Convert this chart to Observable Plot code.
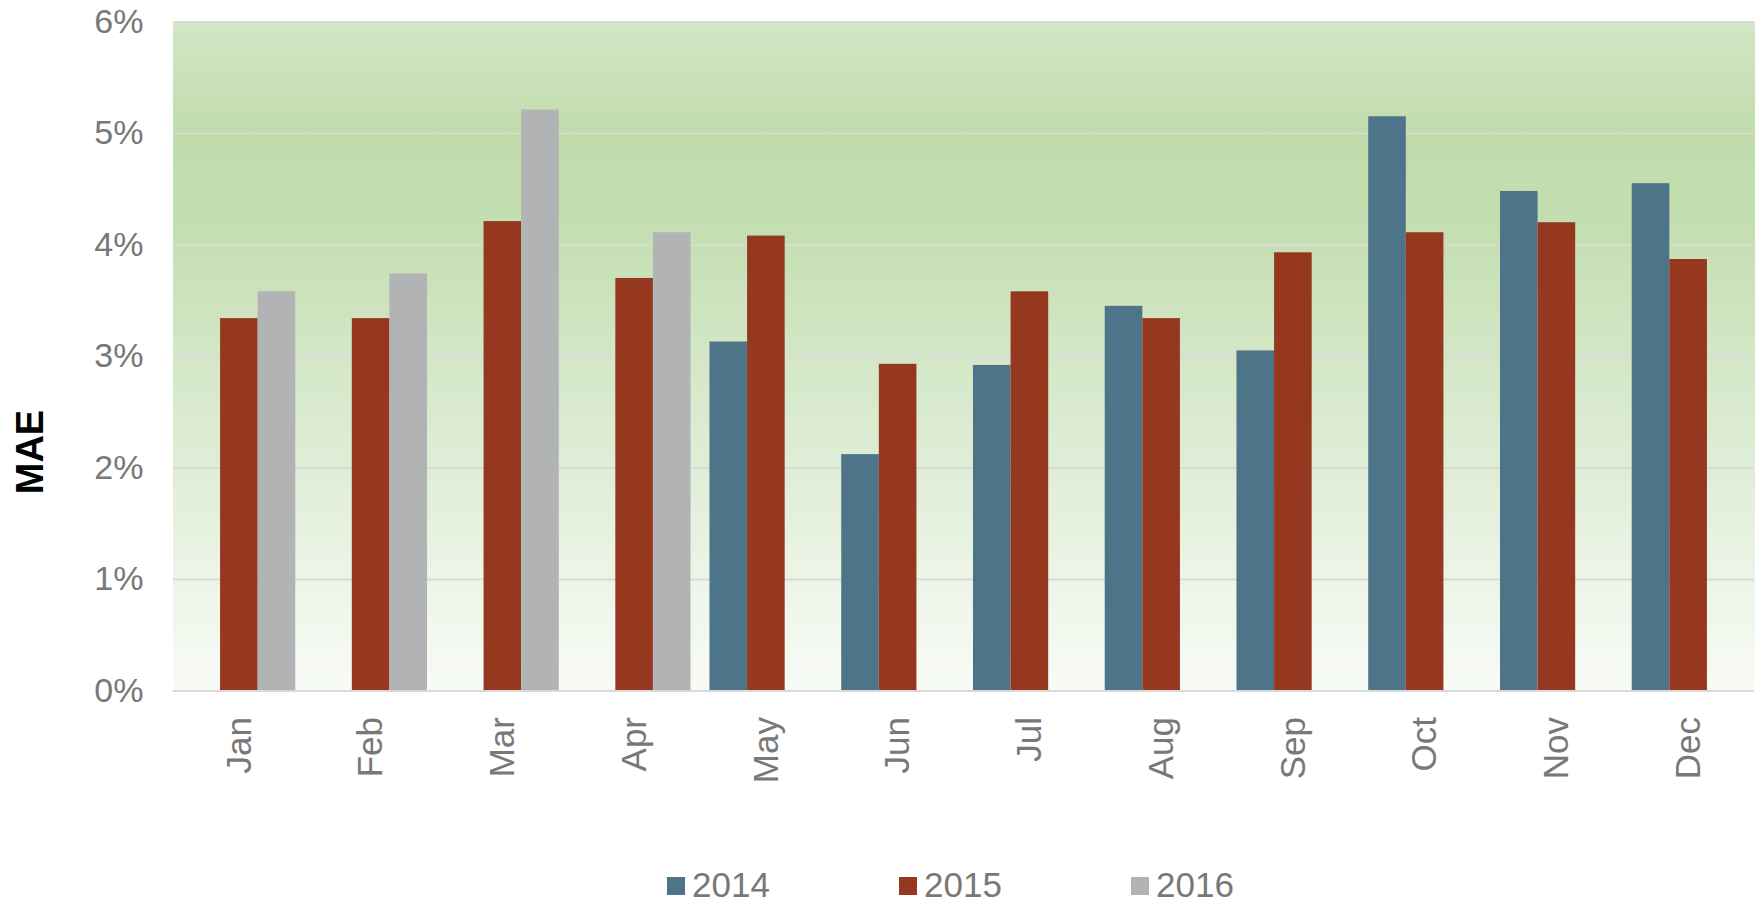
<!DOCTYPE html>
<html>
<head>
<meta charset="utf-8">
<script src="https://cdn.jsdelivr.net/npm/d3@7"></script>
<script src="https://cdn.jsdelivr.net/npm/@observablehq/plot@0.6"></script>
<style>
  body { margin: 0; background: #fff; font-family: "Liberation Sans", Arial, sans-serif; }
  #wrap { position: relative; width: 1756px; height: 904px; }
  #ylabel {
    position: absolute; left: 30px; top: 452px;
    transform: translate(-50%, -50%) rotate(-90deg);
    font-weight: bold; font-size: 38px; color: #000; white-space: nowrap; line-height: 1;
  }
  #legend {
    position: absolute; left: 667px; top: 867px;
    display: flex; align-items: center;
    font-size: 35px; line-height: 35px; color: #787878;
  }
  .item { display: flex; align-items: center; width: 232px; }
  .sw { width: 18px; height: 18px; margin-right: 7px; position: relative; top: 1px; }
</style>
</head>
<body>
<!-- shared gradient for the plot background -->
<svg width="0" height="0" style="position:absolute">
  <defs>
    <linearGradient id="plotBg" x1="0" y1="0" x2="0" y2="1">
      <stop offset="0" stop-color="#d3e6c6"/>
      <stop offset="0.17" stop-color="#c0dcab"/>
      <stop offset="0.30" stop-color="#c3deb0"/>
      <stop offset="0.50" stop-color="#d3e7c6"/>
      <stop offset="0.68" stop-color="#e0eed8"/>
      <stop offset="0.85" stop-color="#eef5e9"/>
      <stop offset="1" stop-color="#f8fbf6"/>
    </linearGradient>
  </defs>
</svg>
<div id="wrap">
  <div id="chart"></div>
  <div id="ylabel">MAE</div>
  <div id="legend"></div>
</div>
<script>
// Monthly mean absolute error (%), by year
const months = ["Jan", "Feb", "Mar", "Apr", "May", "Jun", "Jul", "Aug", "Sep", "Oct", "Nov", "Dec"];
const years = ["2014", "2015", "2016"];
const mae2014 = [null, null, null, null, 3.13, 2.12, 2.92, 3.45, 3.05, 5.15, 4.48, 4.55];
const mae2015 = [3.34, 3.34, 4.21, 3.70, 4.08, 2.93, 3.58, 3.34, 3.93, 4.11, 4.20, 3.87];
const mae2016 = [3.58, 3.74, 5.21, 4.11, null, null, null, null, null, null, null, null];
const yTicks = [0, 1, 2, 3, 4, 5, 6];
const colors = ["#4e7489", "#963720", "#b2b3b5"];

const series = [mae2014, mae2015, mae2016];
const rows = months.flatMap((month, i) =>
  years
    .map((year, k) => ({month, year, value: series[k][i]}))
    .filter(d => d.value != null)
);

const chart = Plot.plot({
  width: 1756,
  height: 850,
  marginLeft: 173,
  marginRight: 2,
  marginTop: 21.5,
  marginBottom: 159.5,
  style: {fontFamily: "Liberation Sans, Arial, sans-serif", color: "#787878", background: "transparent", overflow: "visible"},
  fx: {domain: months, padding: 0, round: false, label: null},
  x: {domain: years, paddingInner: 0, paddingOuter: 0.252, round: false, axis: null},
  y: {domain: [0, 6], label: null},
  color: {domain: years, range: colors},
  marks: [
    Plot.frame({fill: "url(#plotBg)", inset: -0.5}),
    Plot.ruleY(yTicks.slice(1), {stroke: "#d9d9d9", strokeWidth: 2}),
    Plot.barY(rows, {fx: "month", x: "year", y: "value", fill: "year"}),
    Plot.ruleY([0], {stroke: "#d9d9d9", strokeWidth: 2}),
    Plot.axisY({ticks: yTicks, tickFormat: d => d + "%", tickSize: 0, tickPadding: 30, fontSize: 34, label: null}),
    Plot.axisFx({anchor: "bottom", tickSize: 0, tickPadding: 26, tickRotate: -90, fontSize: 35, label: null})
  ]
});
document.getElementById("chart").append(chart);

// legend below the chart
const legend = document.getElementById("legend");
years.forEach((year, k) => {
  const item = document.createElement("div");
  item.className = "item";
  const sw = document.createElement("span");
  sw.className = "sw";
  sw.style.background = colors[k];
  const label = document.createElement("span");
  label.textContent = year;
  item.append(sw, label);
  legend.append(item);
});
</script>
</body>
</html>
